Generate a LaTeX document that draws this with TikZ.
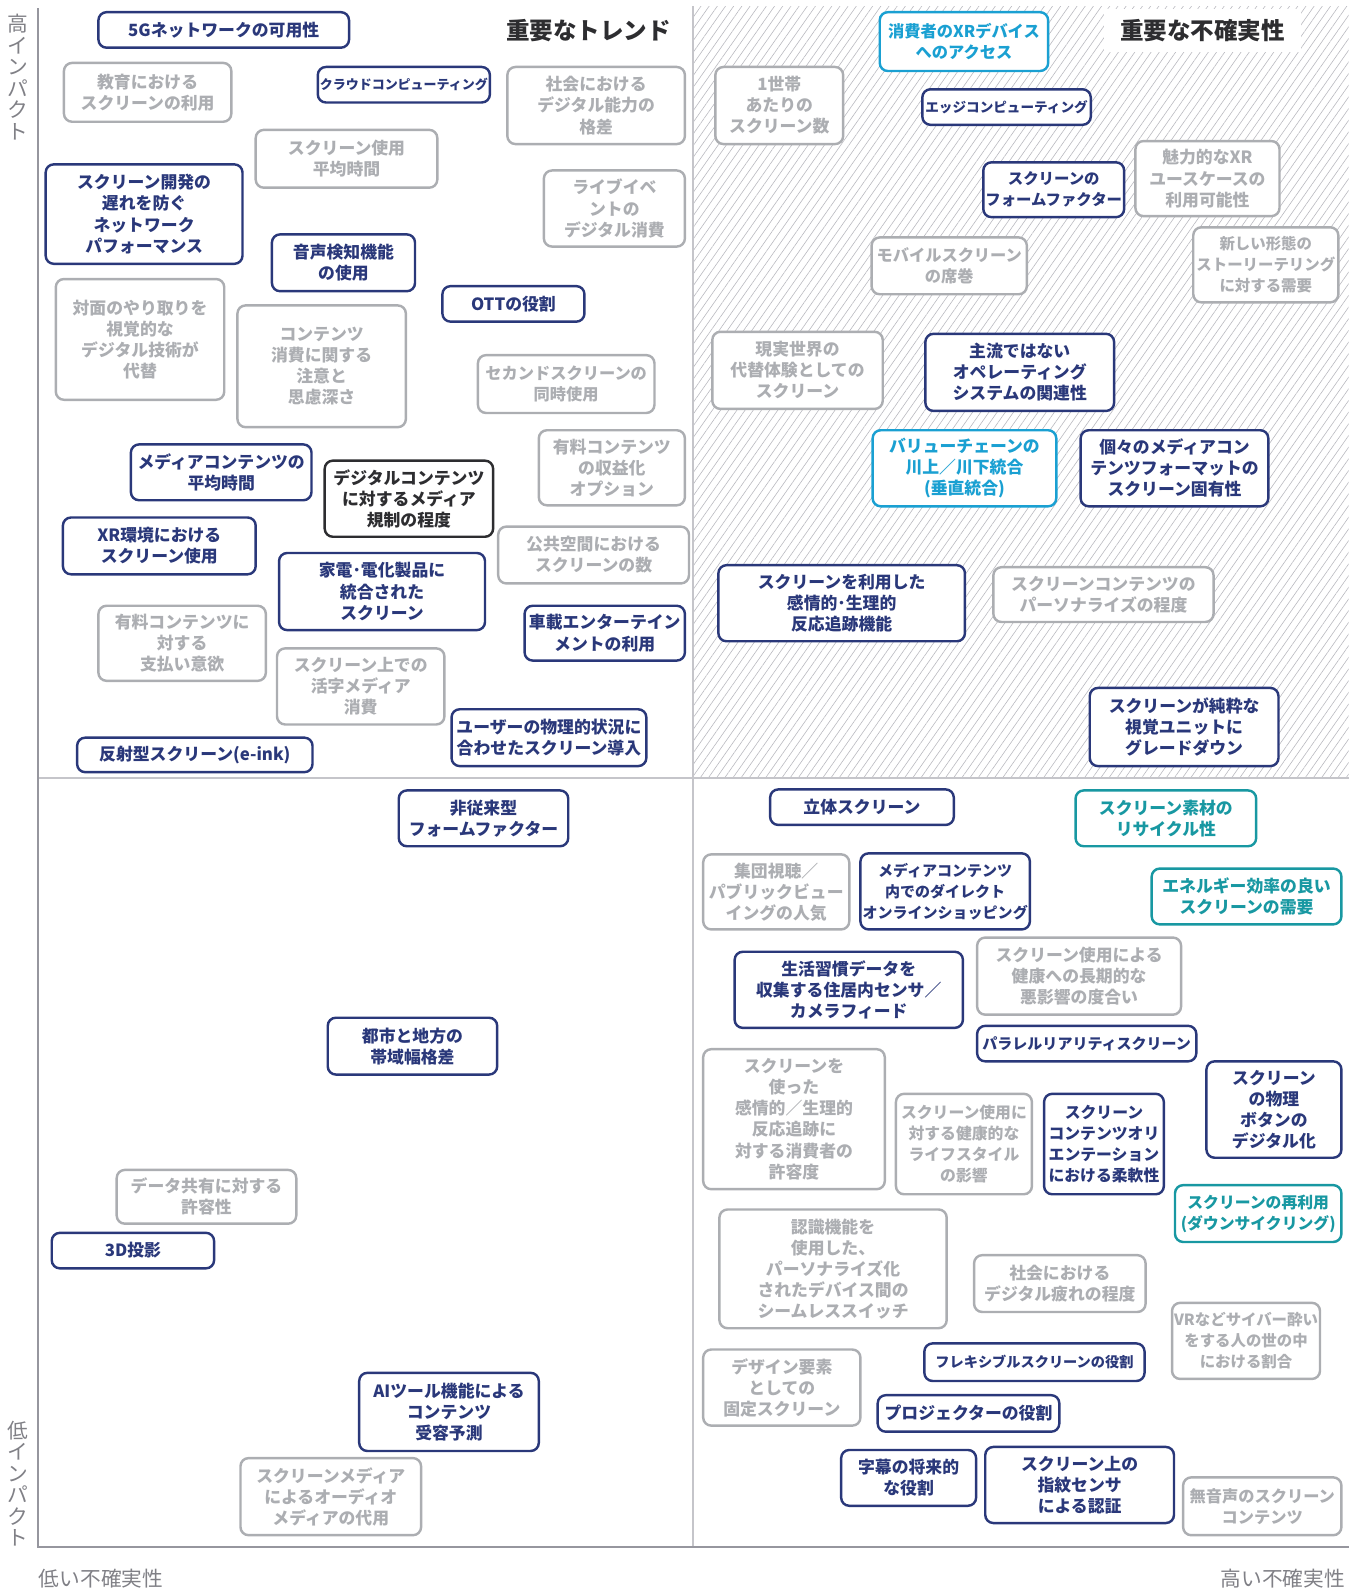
\documentclass[tikz,border=0pt]{standalone}
\usepackage{fontspec}
\setmainfont{Noto Sans CJK JP}
\usetikzlibrary{patterns.meta}

\definecolor{trendblue}{RGB}{42,56,122}
\definecolor{fadegray}{RGB}{172,174,178}
\definecolor{xrcyan}{RGB}{26,160,210}
\definecolor{ecoteal}{RGB}{24,152,162}
\definecolor{inkblack}{RGB}{45,45,48}
\definecolor{axisgray}{RGB}{150,150,158}
\definecolor{hatchgray}{RGB}{186,186,192}

\tikzset{
  card/.style={draw, rounded corners=4pt, line width=1.2pt, fill=white, align=center, inner sep=1pt,
    font=\bfseries\fontsize{8.3}{10.4}\selectfont},
  fs/.style={font=\bfseries\fontsize{#1}{10.4}\selectfont},
  strong/.style={card, draw=trendblue, text=trendblue},
  faint/.style={card, draw=fadegray, text=fadegray},
  xrwatch/.style={card, draw=xrcyan, text=xrcyan},
  eco/.style={card, draw=ecoteal, text=ecoteal},
  regul/.style={card, draw=inkblack, text=inkblack},
  quadtitle/.style={font=\bfseries\fontsize{11.6}{13}\selectfont, text=inkblack},
  axislabel/.style={font=\fontsize{10.2}{10.6}\selectfont, text=axisgray!85!black, inner sep=0pt, align=center},
}

% box given by its corners
\newcommand{\bx}[7]{%
  \node[#2, minimum width={(#5-#3)*0.5pt}, minimum height={(#6-#4)*0.5pt}]
    (#1) at ({(#3+#5)/2},{(#4+#6)/2}) {#7};}

\begin{document}
\begin{tikzpicture}[x=0.5pt,y=-0.5pt]
  \useasboundingbox (0,0) rectangle (1339,1568);

  %frame
  \coordinate (tl) at (37,8);
  \coordinate (bl) at (37,1525);
  \coordinate (br) at (1329,1525);
  \coordinate (mt) at (683,6);
  \coordinate (mb) at (683,1525);
  \coordinate (ml) at (37,767);
  \coordinate (mr) at (1329,767);
  \fill[pattern={Lines[angle=55,distance=3.3pt,line width=0.3pt]}, pattern color=hatchgray] (mt) rectangle (mr);
  \draw[axisgray!55, line width=0.8pt] (mt) -- (mb) (ml) -- (mr);
  \draw[axisgray, line width=1pt] (tl) -- (bl) -- (br);

  %titles
  \node[quadtitle] (trends) at (580,30) {重要なトレンド};
  \node[quadtitle, fill=white, inner xsep=8pt, inner ysep=5pt] (uncert) at (1185,30) {重要な不確実性};

  %axes
  \node[axislabel] (hiimp) at (18,76) {高\\イ\\ン\\パ\\ク\\ト};
  \node[axislabel] (loimp) at (18,1462) {低\\イ\\ン\\パ\\ク\\ト};
  \node[axislabel, anchor=west] (lounc) at (38,1556) {低い不確実性};
  \node[axislabel, anchor=east] (hiunc) at (1326,1556) {高い不確実性};

  %upper left
  \bx{fiveg}{strong}{97}{12}{344}{47}{5Gネットワークの可用性}
  \bx{eduscr}{faint}{63}{62}{228}{120}{教育における\\スクリーンの利用}
  \bx{cloud}{strong, fs=6.4}{315}{66}{481}{101}{クラウドコンピューティング}
  \bx{digdiv}{faint}{500}{66}{675}{142}{社会における\\デジタル能力の\\格差}
  \bx{avgscr}{faint}{252}{128}{431}{185}{スクリーン使用\\平均時間}
  \bx{netperf}{strong}{45}{162}{239}{260}{スクリーン開発の\\遅れを防ぐ\\ネットワーク\\パフォーマンス}
  \bx{liveev}{faint}{536}{168}{675}{243}{ライブイベ\\ントの\\デジタル消費}
  \bx{voice}{strong}{268}{231}{409}{287}{音声検知機能\\の使用}
  \bx{ott}{strong}{436}{282}{576}{317}{OTTの役割}
  \bx{facetoface}{faint}{55}{275}{221}{394}{対面のやり取りを\\視覚的な\\デジタル技術が\\代替}
  \bx{attention}{faint}{234}{301}{400}{421}{コンテンツ\\消費に関する\\注意と\\思慮深さ}
  \bx{secscr}{faint, fs=8}{471}{350}{645}{407}{セカンドスクリーンの\\同時使用}
  \bx{paymon}{faint}{531}{424}{675}{498}{有料コンテンツ\\の収益化\\オプション}
  \bx{avgmedia}{strong}{129}{438}{307}{493}{メディアコンテンツの\\平均時間}
  \bx{mediareg}{regul}{320}{454}{486}{529}{デジタルコンテンツ\\に対するメディア\\規制の程度}
  \bx{xrenv}{strong}{62}{510}{252}{566}{XR環境における\\スクリーン使用}
  \bx{pubscr}{faint}{491}{519}{679}{575}{公共空間における\\スクリーンの数}
  \bx{appliance}{strong}{275}{545}{478}{621}{家電･電化製品に\\統合された\\スクリーン}
  \bx{willpay}{faint}{97}{597}{262}{671}{有料コンテンツに\\対する\\支払い意欲}
  \bx{carent}{strong}{517}{597}{675}{651}{車載エンターテイン\\メントの利用}
  \bx{printmed}{faint}{273}{639}{438}{714}{スクリーン上での\\活字メディア\\消費}
  \bx{physfit}{strong}{445}{699}{637}{755}{ユーザーの物理的状況に\\合わせたスクリーン導入}
  \bx{eink}{strong}{76}{727}{308}{761}{反射型スクリーン(e-ink)}

  %upper right
  \bx{xrdev}{xrwatch, fs=8}{867}{12}{1033}{70}{消費者のXRデバイス\\へのアクセス}
  \bx{hhscr}{faint}{705}{66}{831}{142}{1世帯\\あたりの\\スクリーン数}
  \bx{edge}{strong, fs=6.7}{909}{88}{1075}{123}{エッジコンピューティング}
  \bx{xrcase}{faint}{1119}{139}{1261}{213}{魅力的なXR\\ユースケースの\\利用可能性}
  \bx{formf}{strong, fs=7.6}{972}{160}{1105}{214}{スクリーンの\\フォームファクター}
  \bx{story}{faint, fs=7.6}{1176}{224}{1319}{298}{新しい形態の\\ストーリーテリング\\に対する需要}
  \bx{mobile}{faint, fs=8}{859}{234}{1012}{290}{モバイルスクリーン\\の席巻}
  \bx{realsub}{faint}{702}{327}{870}{403}{現実世界の\\代替体験としての\\スクリーン}
  \bx{altos}{strong}{912}{329}{1098}{405}{主流ではない\\オペレーティング\\システムの関連性}
  \bx{vertint}{xrwatch}{860}{424}{1041}{499}{バリューチェーンの\\川上／川下統合\\(垂直統合)}
  \bx{fmtspec}{strong}{1065}{424}{1250}{499}{個々のメディアコン\\テンツフォーマットの\\スクリーン固有性}
  \bx{emotrack}{strong}{708}{557}{951}{632}{スクリーンを利用した\\感情的･生理的\\反応追跡機能}
  \bx{personal}{faint}{979}{559}{1196}{613}{スクリーンコンテンツの\\パーソナライズの程度}
  \bx{downgrade}{strong}{1074}{678}{1260}{755}{スクリーンが純粋な\\視覚ユニットに\\グレードダウン}

  %lower left
  \bx{unconv}{strong}{393}{779}{560}{834}{非従来型\\フォームファクター}
  \bx{urbanrural}{strong}{323}{1003}{490}{1059}{都市と地方の\\帯域幅格差}
  \bx{datashare}{faint}{115}{1153}{292}{1206}{データ共有に対する\\許容性}
  \bx{proj3d}{strong}{51}{1215}{211}{1250}{3D投影}
  \bx{aipred}{strong}{354}{1353}{531}{1430}{AIツール機能による\\コンテンツ\\受容予測}
  \bx{audiosub}{faint}{237}{1437}{415}{1513}{スクリーンメディア\\によるオーディオ\\メディアの代用}

  %lower right
  \bx{stereo}{strong}{759}{778}{940}{813}{立体スクリーン}
  \bx{recycle}{eco}{1060}{779}{1238}{834}{スクリーン素材の\\リサイクル性}
  \bx{pubview}{faint}{693}{842}{837}{916}{集団視聴／\\パブリックビュー\\イングの人気}
  \bx{shopping}{strong, fs=7.4}{848}{841}{1015}{916}{メディアコンテンツ\\内でのダイレクト\\オンラインショッピング}
  \bx{energy}{eco}{1135}{856}{1322}{911}{エネルギー効率の良い\\スクリーンの需要}
  \bx{homesens}{strong}{724}{938}{949}{1013}{生活習慣データを\\収集する住居内センサ／\\カメラフィード}
  \bx{health}{faint}{963}{924}{1164}{1000}{スクリーン使用による\\健康への長期的な\\悪影響の度合い}
  \bx{parallel}{strong, fs=7.4}{963}{1011}{1179}{1046}{パラレルリアリティスクリーン}
  \bx{tolerance}{faint}{693}{1034}{872}{1172}{スクリーンを\\使った\\感情的／生理的\\反応追跡に\\対する消費者の\\許容度}
  \bx{physbtn}{strong}{1189}{1046}{1322}{1141}{スクリーン\\の物理\\ボタンの\\デジタル化}
  \bx{lifestyle}{faint, fs=7.8}{883}{1078}{1017}{1177}{スクリーン使用に\\対する健康的な\\ライフスタイル\\の影響}
  \bx{orient}{strong, fs=7.8}{1029}{1078}{1147}{1177}{スクリーン\\コンテンツオリ\\エンテーション\\における柔軟性}
  \bx{reuse}{eco, fs=7.8}{1158}{1168}{1322}{1224}{スクリーンの再利用\\(ダウンサイクリング)}
  \bx{seamless}{faint}{709}{1192}{933}{1309}{認識機能を\\使用した、\\パーソナライズ化\\されたデバイス間の\\シームレススイッチ}
  \bx{fatigue}{faint}{960}{1237}{1129}{1293}{社会における\\デジタル疲れの程度}
  \bx{cybersick}{faint, fs=7.6}{1156}{1284}{1300}{1359}{VRなどサイバー酔い\\をする人の世の中\\における割合}
  \bx{flexible}{strong, fs=7}{911}{1324}{1128}{1361}{フレキシブルスクリーンの役割}
  \bx{fixed}{faint}{693}{1330}{848}{1405}{デザイン要素\\としての\\固定スクリーン}
  \bx{projector}{strong}{865}{1375}{1044}{1411}{プロジェクターの役割}
  \bx{subtitle}{strong}{829}{1429}{962}{1484}{字幕の将来的\\な役割}
  \bx{fingerprint}{strong}{971}{1426}{1157}{1501}{スクリーン上の\\指紋センサ\\による認証}
  \bx{silent}{faint, fs=8}{1166}{1456}{1322}{1513}{無音声のスクリーン\\コンテンツ}
\end{tikzpicture}
\end{document}
